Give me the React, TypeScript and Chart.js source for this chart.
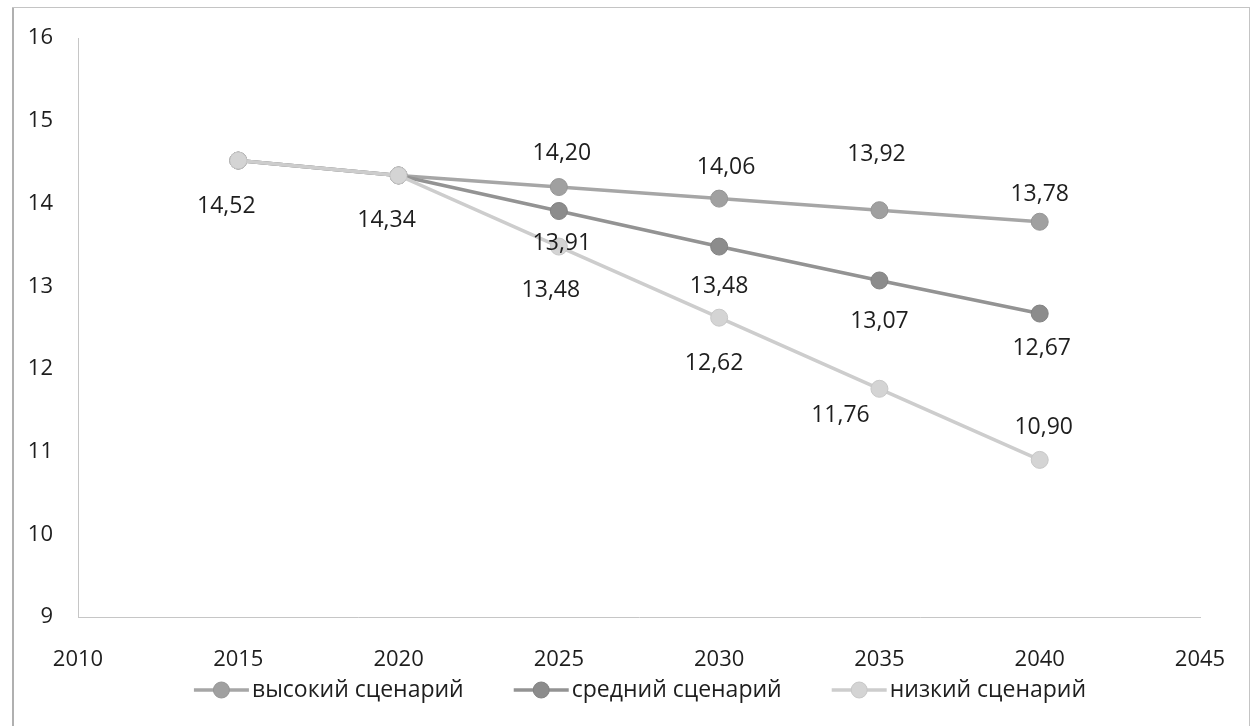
import React, { useEffect, useRef } from "react";
import { Chart, registerables } from "chart.js";

Chart.register(...registerables);

// ---- data ----
const years: number[] = [2015, 2020, 2025, 2030, 2035, 2040];
const highValues: number[] = [14.52, 14.34, 14.2, 14.06, 13.92, 13.78];
const midValues: number[] = [14.52, 14.34, 13.91, 13.48, 13.07, 12.67];
const lowValues: number[] = [14.52, 14.34, 13.48, 12.62, 11.76, 10.9];
const seriesNames: string[] = ["высокий сценарий", "средний сценарий", "низкий сценарий"];
const xMin = 2010;
const xMax = 2045;
const xStep = 5;
const yMin = 9;
const yMax = 16;
const yStep = 1;

// ---- styles / layout (not data) ----
const FONT = "'Open Sans', 'DejaVu Sans', sans-serif";
const lineColors = ["#a6a6a6", "#939393", "#cdcdcd"];
const pointColors = ["#a0a0a0", "#8c8c8c", "#d4d4d4"];
const pointBorders = ["#969696", "#828282", "#c8c8c8"];
// label offsets per series per point [dx, dy] relative to the point; null = no label
const labelOffsets: ([number, number] | null)[][] = [
  [null, null, [3, -34], [7, -31], [-3, -56], [0, -27]],
  [null, null, [3, 32], [0, 40], [0, 41], [2, 35]],
  [[-12, 46], [-12, 45], [-8, 44], [-5, 46], [-39, 27], [4, -32]],
];

const fmt = (v: number) => v.toFixed(2).replace(".", ",");

const toPoints = (vals: number[]) => years.map((y, i) => ({ x: y, y: vals[i] }));

const frameAndLabelsPlugin = {
  id: "frameAndLabels",
  beforeDraw(chart: any) {
    const { ctx, width, height } = chart;
    ctx.save();
    ctx.fillStyle = "#ffffff";
    ctx.fillRect(0, 0, width, height);
    // outer frame
    ctx.strokeStyle = "#c4c4c4";
    ctx.lineWidth = 1;
    ctx.strokeRect(12.5, 7.5, width - 22, height + 10);
    ctx.strokeStyle = "#b0b0b0";
    ctx.lineWidth = 2;
    ctx.beginPath();
    ctx.moveTo(13, 8);
    ctx.lineTo(13, height);
    ctx.stroke();
    ctx.restore();
  },
  afterDatasetsDraw(chart: any) {
    const { ctx } = chart;
    ctx.save();
    ctx.font = `23px ${FONT}`;
    ctx.fillStyle = "#1e1e1e";
    ctx.textAlign = "center";
    ctx.textBaseline = "middle";
    chart.data.datasets.forEach((ds: any, di: number) => {
      const meta = chart.getDatasetMeta(di);
      meta.data.forEach((pt: any, i: number) => {
        const off = labelOffsets[di][i];
        if (!off) return;
        const v = ds.data[i].y;
        ctx.fillText(fmt(v), pt.x + off[0], pt.y + off[1]);
      });
    });
    ctx.restore();
  },
  afterDraw(chart: any) {
    const { ctx } = chart;
    ctx.save();
    ctx.font = `23px ${FONT}`;
    ctx.textBaseline = "middle";
    ctx.textAlign = "left";
    const markerW = 55;
    const gapText = 3;
    const gapItem = 50;
    const items = chart.data.datasets.map((ds: any) => ({
      label: ds.label as string,
      w: ctx.measureText(ds.label).width,
      line: ds.borderColor,
      fill: ds.pointBackgroundColor,
      border: ds.pointBorderColor,
    }));
    const total =
      items.reduce((s: number, it: any) => s + markerW + gapText + it.w, 0) + gapItem * (items.length - 1);
    let x = 640 - total / 2;
    const y = 690;
    items.forEach((it: any) => {
      ctx.strokeStyle = it.line;
      ctx.lineWidth = 3.5;
      ctx.beginPath();
      ctx.moveTo(x, y);
      ctx.lineTo(x + markerW, y);
      ctx.stroke();
      ctx.beginPath();
      ctx.arc(x + markerW / 2, y, 8, 0, Math.PI * 2);
      ctx.fillStyle = it.fill;
      ctx.fill();
      ctx.strokeStyle = it.border;
      ctx.lineWidth = 1;
      ctx.stroke();
      ctx.fillStyle = "#1e1e1e";
      ctx.fillText(it.label, x + markerW + gapText, y);
      x += markerW + gapText + it.w + gapItem;
    });
    ctx.restore();
  },
};

export default function App() {
  const canvasRef = useRef<HTMLCanvasElement | null>(null);

  useEffect(() => {
    if (!canvasRef.current) return;
    const vals = [highValues, midValues, lowValues];
    const chart = new Chart(canvasRef.current, {
      type: "line",
      data: {
        datasets: vals.map((v, i) => ({
          label: seriesNames[i],
          data: toPoints(v),
          borderColor: lineColors[i],
          backgroundColor: pointColors[i],
          pointBackgroundColor: pointColors[i],
          pointBorderColor: pointBorders[i],
          pointBorderWidth: 1,
          pointRadius: 8.5,
          borderWidth: 3.5,
          tension: 0,
          fill: false,
          order: 3 - i,
        })),
      },
      options: {
        responsive: false,
        animation: false,
        devicePixelRatio: 1,
        layout: { padding: { top: 32, right: 59, left: 0, bottom: 0 } },
        plugins: {
          legend: { display: false },
          tooltip: { enabled: false },
          title: { display: false },
        },
        scales: {
          x: {
            type: "linear",
            min: xMin,
            max: xMax,
            grid: { display: false, drawTicks: false },
            border: { display: true, color: "#c6c6c6", width: 1 },
            ticks: {
              stepSize: xStep,
              padding: 30,
              color: "#1e1e1e",
              font: { family: FONT, size: 22 },
              callback: (v: any) => String(v),
              maxRotation: 0,
            },
            afterFit: (scale: any) => {
              scale.height = 109;
            },
          },
          y: {
            type: "linear",
            min: yMin,
            max: yMax,
            grid: { display: false, drawTicks: false },
            border: { display: true, color: "#c6c6c6", width: 1, dash: [2, 1] },
            ticks: {
              stepSize: yStep,
              padding: 25,
              color: "#1e1e1e",
              font: { family: FONT, size: 22 },
            },
            afterFit: (scale: any) => {
              scale.width = 78;
            },
          },
        },
      },
      plugins: [frameAndLabelsPlugin],
    });
    return () => chart.destroy();
  }, []);

  return (
    <div style={{ position: "fixed", left: 0, top: 0, width: 1259, height: 726, background: "#fff" }}>
      <canvas ref={canvasRef} width={1259} height={726} style={{ display: "block" }} />
    </div>
  );
}
